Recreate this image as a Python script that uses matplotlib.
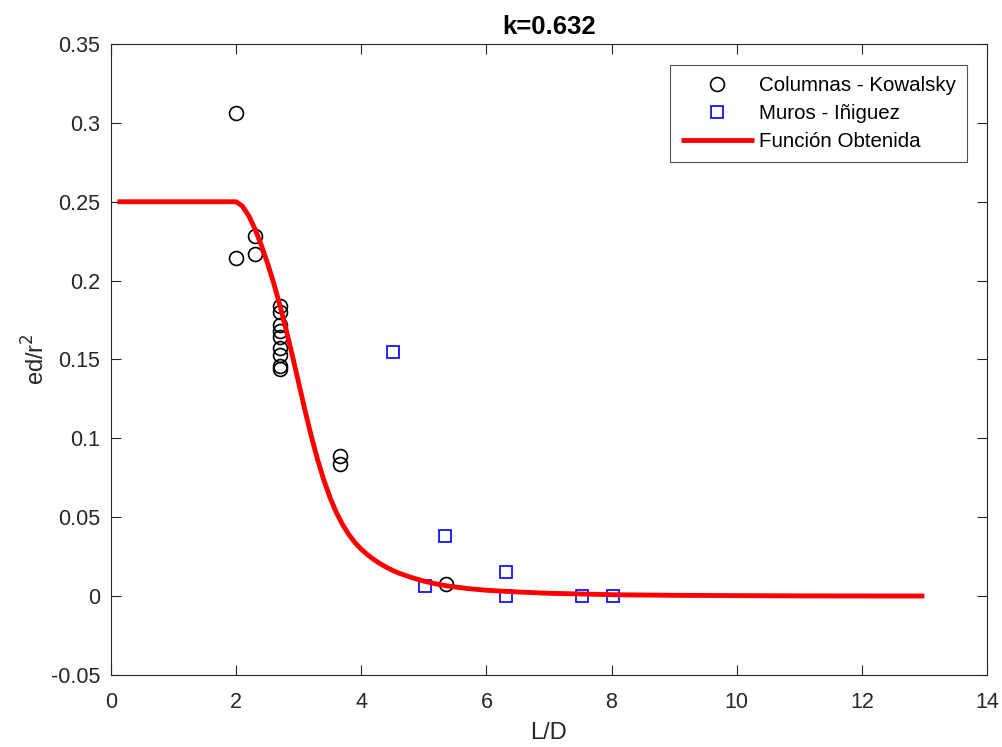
import matplotlib
matplotlib.use("Agg")
import matplotlib.pyplot as plt

plt.rcParams['font.family'] = ['Liberation Sans', 'DejaVu Sans']

# Columnas - Kowalsky
col_ld = [2.0, 2.3, 2.3, 2.0, 2.7, 2.7, 2.7, 2.7, 2.7, 2.7, 2.7, 2.7, 2.7, 3.66, 3.66, 5.35]
col_ed = [0.306, 0.228, 0.217, 0.2145, 0.184, 0.180, 0.172, 0.168, 0.164,
          0.157, 0.153, 0.146, 0.144, 0.089, 0.0835, 0.0076]

# Muros - Iñiguez
mur_ld = [4.5, 5.33, 5.02, 6.31, 6.31, 7.52, 8.02]
mur_ed = [0.1545, 0.038, 0.0065, 0.0154, 0.0, 0.0, 0.0]

# Función Obtenida
fun_ld = [0.1, 2.0, 2.1, 2.2, 2.3, 2.4, 2.5, 2.6, 2.7, 2.8, 2.9, 3.0, 3.1,
          3.2, 3.3, 3.4, 3.5, 3.6, 3.7, 3.8, 3.9, 4.0, 4.1, 4.2, 4.3, 4.4,
          4.5, 4.6, 4.8, 5.0, 5.2, 5.4, 5.7, 6.0, 6.5, 7.0, 8.0, 9.0, 10.0,
          11.0, 13.0]
fun_ed = [0.25, 0.25, 0.2472, 0.2412, 0.2328, 0.2227, 0.2112, 0.1984, 0.1842,
          0.1687, 0.1522, 0.1350, 0.1178, 0.1015, 0.0867, 0.0737, 0.0625,
          0.0531, 0.0454, 0.0391, 0.0339, 0.0297, 0.0262, 0.0232, 0.0206,
          0.0183, 0.0163, 0.0146, 0.0118, 0.0095, 0.0077, 0.0063, 0.0048,
          0.0037, 0.0026, 0.0018, 0.0009, 0.0005, 0.0003, 0.00015, 0.00005]

xticks = [0, 2, 4, 6, 8, 10, 12, 14]
yticks = [-0.05, 0, 0.05, 0.1, 0.15, 0.2, 0.25, 0.3, 0.35]
ytick_labels = ['-0.05', '0', '0.05', '0.1', '0.15', '0.2', '0.25', '0.3', '0.35']

fig = plt.figure(figsize=(10.03, 7.47), dpi=100)
ax = fig.add_axes([0.1107, 0.0964, 0.8733, 0.8447])

ax.plot(col_ld, col_ed, linestyle='none', marker='o', markersize=10,
        markerfacecolor='none', markeredgecolor='black', markeredgewidth=1.2,
        label='Columnas - Kowalsky')
ax.plot(mur_ld, mur_ed, linestyle='none', marker='s', markersize=8.5,
        markerfacecolor='none', markeredgecolor='blue', markeredgewidth=1.2,
        label='Muros - Iñiguez')
ax.plot(fun_ld, fun_ed, color='red', linewidth=3.5, solid_joinstyle='round',
        solid_capstyle='butt', label='Función Obtenida')

ax.set_xlim(0, 14)
ax.set_ylim(-0.05, 0.35)
ax.set_xticks(xticks)
ax.set_yticks(yticks)
ax.set_yticklabels(ytick_labels)

axis_color = '#262626'
for sp in ax.spines.values():
    sp.set_color(axis_color)
    sp.set_linewidth(0.8)
ax.tick_params(direction='in', top=True, right=True, length=7, width=0.8,
               colors=axis_color, labelsize=15.5, labelcolor=axis_color)
ax.tick_params(axis='x', pad=12.5)
ax.tick_params(axis='y', pad=8)

ax.set_xlabel('L/D', fontsize=17, color=axis_color, labelpad=6.5)
ax.set_ylabel('ed/r$^2$', fontsize=17, color=axis_color, labelpad=1)
ax.set_title('k=0.632', fontsize=18.5, fontweight='bold', color='black', pad=7)

leg = ax.legend(loc='upper right', bbox_to_anchor=(0.977, 0.9667), fontsize=14.8,
                frameon=True, fancybox=False, edgecolor=axis_color,
                handlelength=3.55, borderpad=0.53, labelspacing=0.44,
                handletextpad=0.25, borderaxespad=0)
leg.get_frame().set_linewidth(0.8)

fig.savefig('out.png', dpi=100)
